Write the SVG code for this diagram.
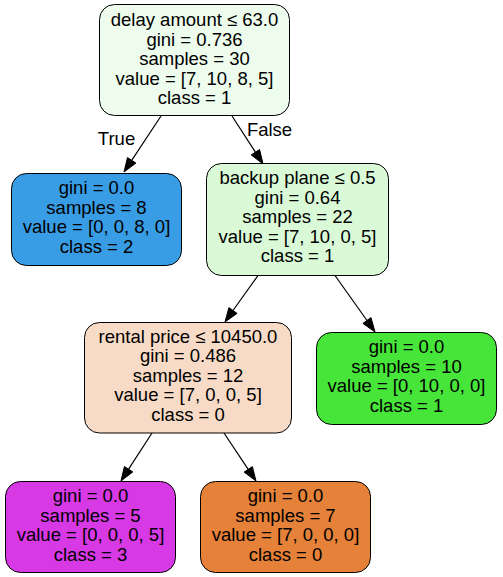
<svg xmlns="http://www.w3.org/2000/svg" width="503" height="577" viewBox="0 0 503 577">
<defs>
<style>
.n{stroke:#000;stroke-width:1}
text{font-family:"Liberation Sans",Arial,sans-serif;font-size:18.5px;text-anchor:middle;fill:#000}
.e{stroke:#000;stroke-width:1.2;fill:none}
.h{fill:#000;stroke:#000}
</style>
</defs>
<rect width="503" height="577" fill="#fff"/>
<g id="edges">
<line class="e" x1="161" y1="116" x2="131.7" y2="160.3"/>
<polygon class="h" points="124,172 127.5,157.6 135.9,163.1"/>
<text x="116.5" y="145">True</text>
<line class="e" x1="232" y1="116" x2="255.4" y2="152.2"/>
<polygon class="h" points="263,164 251.2,154.9 259.6,149.5"/>
<text x="269.5" y="135.5">False</text>
<line class="e" x1="258" y1="275.5" x2="233" y2="310.5"/>
<polygon class="h" points="225,322 228.9,307.6 237.1,313.4"/>
<line class="e" x1="335" y1="275.5" x2="367" y2="320.5"/>
<polygon class="h" points="375,332 362.9,323.4 371,317.6"/>
<line class="e" x1="152" y1="433" x2="128.6" y2="469.2"/>
<polygon class="h" points="121,481 124.4,466.5 132.8,471.9"/>
<line class="e" x1="224" y1="433" x2="248.2" y2="469.3"/>
<polygon class="h" points="256,481 244.1,472.1 252.4,466.6"/>
</g>
<g id="node0">
<rect class="n" x="99.5" y="4.5" width="190" height="111" rx="15" fill="#eefced"/>
<text x="194.5" y="26">delay amount ≤ 63.0</text>
<text x="194.5" y="45.5">gini = 0.736</text>
<text x="194.5" y="65">samples = 30</text>
<text x="194.5" y="84.5">value = [7, 10, 8, 5]</text>
<text x="194.5" y="104">class = 1</text>
</g>
<g id="node1">
<rect class="n" x="11.5" y="173.5" width="170" height="92" rx="15" fill="#399de5"/>
<text x="96.5" y="194">gini = 0.0</text>
<text x="96.5" y="213.5">samples = 8</text>
<text x="96.5" y="233">value = [0, 0, 8, 0]</text>
<text x="96.5" y="252.5">class = 2</text>
</g>
<g id="node2">
<rect class="n" x="206.5" y="163.5" width="182" height="112" rx="15" fill="#dafad7"/>
<text x="297.5" y="184">backup plane ≤ 0.5</text>
<text x="297.5" y="203.5">gini = 0.64</text>
<text x="297.5" y="223">samples = 22</text>
<text x="297.5" y="242.5">value = [7, 10, 0, 5]</text>
<text x="297.5" y="262">class = 1</text>
</g>
<g id="node3">
<rect class="n" x="84.5" y="322.5" width="207" height="110.5" rx="15" fill="#f8dbc6"/>
<text x="188" y="342.5">rental price ≤ 10450.0</text>
<text x="188" y="362">gini = 0.486</text>
<text x="188" y="381.5">samples = 12</text>
<text x="188" y="401">value = [7, 0, 0, 5]</text>
<text x="188" y="420.5">class = 0</text>
</g>
<g id="node4">
<rect class="n" x="316.5" y="332.5" width="180" height="92" rx="15" fill="#47e539"/>
<text x="406.5" y="353">gini = 0.0</text>
<text x="406.5" y="372.5">samples = 10</text>
<text x="406.5" y="392">value = [0, 10, 0, 0]</text>
<text x="406.5" y="411.5">class = 1</text>
</g>
<g id="node5">
<rect class="n" x="5.5" y="481.5" width="170" height="91" rx="15" fill="#d739e5"/>
<text x="90.5" y="502">gini = 0.0</text>
<text x="90.5" y="521.5">samples = 5</text>
<text x="90.5" y="541">value = [0, 0, 0, 5]</text>
<text x="90.5" y="560.5">class = 3</text>
</g>
<g id="node6">
<rect class="n" x="200.5" y="481.5" width="170" height="91" rx="15" fill="#e58139"/>
<text x="285.5" y="502">gini = 0.0</text>
<text x="285.5" y="521.5">samples = 7</text>
<text x="285.5" y="541">value = [7, 0, 0, 0]</text>
<text x="285.5" y="560.5">class = 0</text>
</g>
</svg>
